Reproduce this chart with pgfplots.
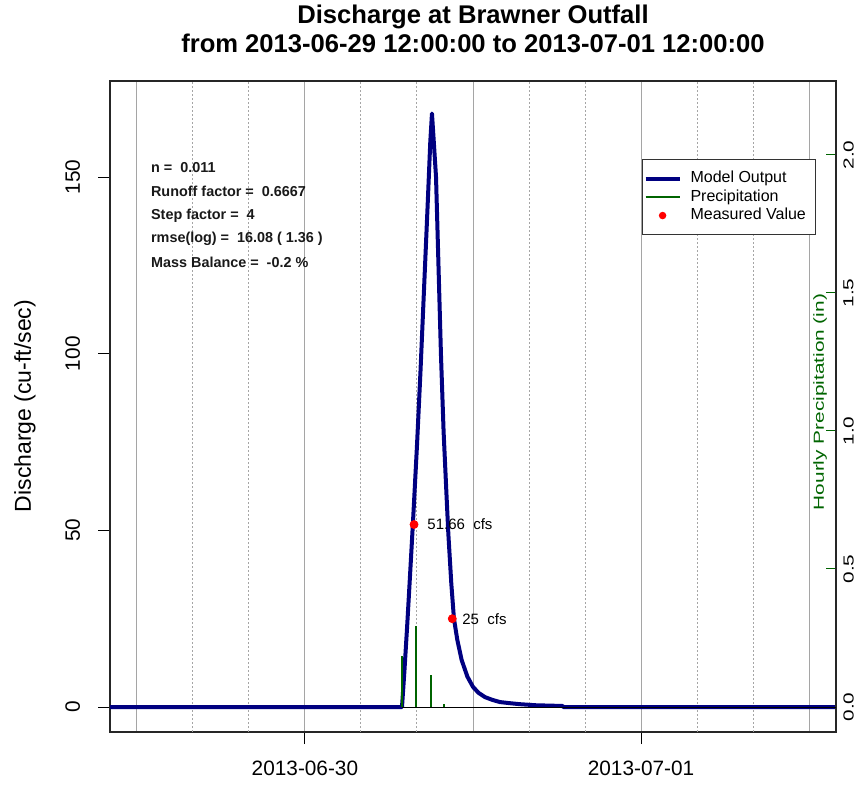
\documentclass[border=0pt]{standalone}
\usepackage{pgfplots}
\pgfplotsset{compat=1.18}
\usepackage{fontspec}
\setmainfont{Liberation Sans}
\definecolor{navyline}{RGB}{0,0,128}
\definecolor{rgreen}{RGB}{0,100,0}
\definecolor{gridgray}{RGB}{165,165,165}

% hours after 2013-06-30 00:00
\pgfplotstableread{
h q
-13.92 0
6.93 0
7.10 10
7.30 23
7.50 37
7.71 52
8.00 74
8.25 95
8.50 118
8.75 141
8.95 160
9.07 168
9.20 160
9.36 150
9.50 130
9.71 100
9.90 78
10.12 59
10.24 49
10.45 35
10.64 25
10.88 19
11.19 13.3
11.60 8.6
12.00 5.7
12.40 4.0
12.86 2.8
13.40 2.0
13.93 1.4
14.60 1.1
15.36 0.8
16.50 0.5
18.40 0.3
18.45 0
37.92 0
}\model

\begin{document}
\begin{tikzpicture}
\useasboundingbox (0,0) rectangle (431pt,392pt);

\begin{axis}[
  at={(55pt,26pt)}, anchor=south west,
  scale only axis, width=363pt, height=325.5pt,
  xmin=-13.92, xmax=37.92, ymin=-7.07, ymax=177.2,
  axis line style={line width=0.6pt, black!85},
  xtick={0,24}, xticklabels={2013-06-30,2013-07-01},
  ytick={0,50,100,150},
  xtick pos=lower, ytick pos=left,
  tick align=outside, major tick length=6pt,
  tick style={black, line width=0.5pt},
  /pgf/number format/assume math mode=true,
  ticklabel style={font=\fontsize{10.4}{12}\selectfont, inner sep=0pt},
  xticklabel style={anchor=north, yshift=-8.3pt},
  yticklabel={\rotatebox{90}{\pgfmathprintnumber{\tick}}},
  yticklabel style={xshift=-8.75pt},
  xmajorgrids, major grid style={gridgray, line width=0.5pt},
  minor xtick={-12,12,36}, xminorgrids, minor tick length=0pt,
  minor grid style={gridgray, line width=0.5pt},
  extra x ticks={-8,-4,4,8,16,20,28,32}, extra x tick labels={},
  extra x tick style={major tick length=0pt,
    major grid style={gridgray, line width=0.5pt, dash pattern=on 1pt off 1pt}},
]
\addplot[navyline, line width=2pt, line join=round] table[x=h, y=q] {\model};
\addplot[only marks, mark=*, red, mark size=2pt] coordinates {(7.79,51.66) (10.52,25)};
\node[anchor=west, inner sep=0pt, font=\fontsize{7.5}{9}\selectfont, xshift=6.5pt] at (axis cs:7.79,51.66) {51.66\ \ cfs};
\node[anchor=west, inner sep=0pt, font=\fontsize{7.5}{9}\selectfont, xshift=4.85pt] at (axis cs:10.52,25) {25\ \ cfs};
\end{axis}

\begin{axis}[
  at={(55pt,26pt)}, anchor=south west,
  scale only axis, width=363pt, height=325.5pt,
  xmin=-13.92, xmax=37.92, ymin=-0.0906, ymax=2.268,
  axis x line=none, axis y line*=right,
  axis line style={line width=0.6pt, black!85},
  ytick={0,0.5,1,1.5,2},
  tick align=inside, major tick length=5pt,
  tick style={rgreen, line width=0.5pt},
  yticklabel={\rotatebox{90}{\scalebox{1}[0.7]{\pgfmathprintnumber[fixed,fixed zerofill,precision=1,assume math mode=true]{\tick}}}},
  yticklabel style={inner sep=0pt, xshift=3.5pt, font=\fontsize{10.4}{12}\selectfont},
  legend style={at={(0.7324,0.8848)}, anchor=north west, draw=black!80,
    line width=0.5pt, fill=white, font=\fontsize{8}{9}\selectfont,
    inner xsep=0.65pt, inner ysep=4.9pt, column sep=4.43pt,
    nodes={inner xsep=0pt, inner ysep=0.625pt, text height=6pt, text depth=2pt},
    yshift=-1.5pt},
  legend cell align=left,
]
\addlegendimage{navyline, line width=2pt}
\addlegendentry{Model Output}
\addlegendimage{rgreen, line width=1.3pt}
\addlegendentry{Precipitation}
\addlegendimage{only marks, mark=*, red, mark size=1.6pt}
\addlegendentry{Measured Value\hspace*{4.2pt}}
\addplot[black, line width=0.5pt, forget plot] coordinates {(6.93,0) (37.92,0)};
\addplot[ycomb, rgreen, line width=1.2pt, forget plot] coordinates {(6.93,0.185) (7.93,0.293) (9.0,0.116) (9.93,0.011)};
\end{axis}

\node[anchor=base, font=\bfseries\fontsize{12.8}{14}\selectfont] at (236.5pt,380pt) {Discharge at Brawner Outfall};
\node[anchor=base, font=\bfseries\fontsize{12.8}{14}\selectfont] at (236.5pt,365.5pt) {from 2013-06-29 12:00:00 to 2013-07-01 12:00:00};
\node[rotate=90, font=\fontsize{11.5}{13}\selectfont] at (12.5pt,189pt) {Discharge (cu-ft/sec)};
\node[rotate=90, text=rgreen, font=\fontsize{10.4}{12}\selectfont] at (410pt,191pt) {\scalebox{1}[0.7]{Hourly Precipitation (in)}};

\begin{scope}[font=\bfseries\fontsize{7.2}{9}\selectfont, every node/.style={anchor=base west, inner sep=0pt, text=black!90}]
\node at (75.35pt,305.85pt) {n =\ \ 0.011};
\node at (75.35pt,294pt) {Runoff factor =\ \ 0.6667};
\node at (75.35pt,282.5pt) {Step factor =\ \ 4};
\node at (75.35pt,270.65pt) {rmse(log) =\ \ 16.08 ( 1.36 )};
\node at (75.35pt,258.15pt) {Mass Balance =\ \ -0.2 \%};
\end{scope}
\end{tikzpicture}
\end{document}
